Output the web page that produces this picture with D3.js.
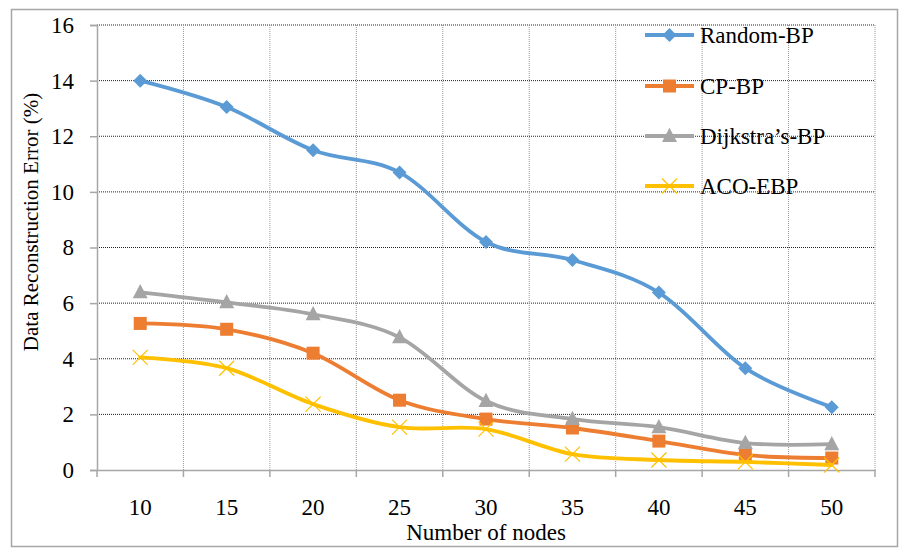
<!DOCTYPE html>
<html><head><meta charset="utf-8">
<script src="https://cdn.jsdelivr.net/npm/d3@7"></script>
<style>body{margin:0;background:#fff} text{font-family:"Liberation Serif","Times New Roman","DejaVu Serif",serif}</style>
</head><body>
<svg id="c" width="912" height="554"></svg>
<script>
const categories = [10, 15, 20, 25, 30, 35, 40, 45, 50];
const randomBP = [14.0, 13.05, 11.5, 10.7, 8.2, 7.55, 6.38, 3.66, 2.26];
const cpBP = [5.27, 5.06, 4.2, 2.51, 1.83, 1.51, 1.04, 0.54, 0.43];
const dijkstraBP = [6.39, 6.03, 5.6, 4.77, 2.48, 1.83, 1.54, 0.97, 0.93];
const acoEBP = [4.05, 3.66, 2.37, 1.54, 1.47, 0.57, 0.36, 0.29, 0.18];
const seriesNames = ["Random-BP", "CP-BP", "Dijkstra\u2019s-BP", "ACO-EBP"];
const yTicks = [0, 2, 4, 6, 8, 10, 12, 14, 16];

const series = [
  {name: seriesNames[0], values: randomBP, color: "#5B9BD5", marker: "diamond"},
  {name: seriesNames[1], values: cpBP, color: "#ED7D31", marker: "square"},
  {name: seriesNames[2], values: dijkstraBP, color: "#A5A5A5", marker: "triangle"},
  {name: seriesNames[3], values: acoEBP, color: "#FFC000", marker: "x"}
];

const svg = d3.select("#c");
const font = "Liberation Serif, Times New Roman, serif";
const L = 97, R = 875, T = 25, B = 470;

svg.append("rect").attr("x", 11.5).attr("y", 9.5).attr("width", 886).attr("height", 537)
  .attr("fill", "#fff").attr("stroke", "#a6a6a6").attr("stroke-width", 1.5);

const x = d3.scaleBand().domain(categories).range([L, R]);
const y = d3.scaleLinear().domain([0, 16]).range([B, T]);

// horizontal gridlines
svg.append("g").selectAll("line").data(yTicks.filter(d => d > 0)).join("line")
  .attr("x1", L).attr("x2", R).attr("y1", d => y(d)).attr("y2", d => y(d))
  .attr("stroke", "#222").attr("stroke-width", 1).attr("stroke-dasharray", "1,1");
// vertical gridlines at band boundaries
const bounds = categories.slice(1).map(c => x(c)).concat([R]);
svg.append("g").selectAll("line").data(bounds).join("line")
  .attr("x1", d => d).attr("x2", d => d).attr("y1", T).attr("y2", B)
  .attr("stroke", "#999").attr("stroke-width", 1).attr("stroke-dasharray", "1,1");

// y axis
const yAxis = svg.append("g").attr("transform", `translate(${L},0)`)
  .call(d3.axisLeft(y).tickValues(yTicks).tickSize(7).tickPadding(16));
yAxis.attr("font-family", null);
yAxis.select(".domain").attr("stroke", "#a6a6a6").attr("stroke-width", 1.5);
yAxis.selectAll(".tick line").attr("stroke", "#a6a6a6").attr("stroke-width", 1.5);
yAxis.selectAll("text").style("font-family", font).style("font-size", "23px").attr("fill", "#000");

// x axis
const xAxis = svg.append("g").attr("transform", `translate(0,${B})`)
  .call(d3.axisBottom(x).tickSize(0).tickPadding(29));
xAxis.attr("font-family", null);
xAxis.select(".domain").attr("stroke", "#a6a6a6").attr("stroke-width", 1.5);
xAxis.selectAll("text").style("font-family", font).style("font-size", "23px").attr("fill", "#000");
xAxis.append("g").selectAll("line").data([L].concat(bounds)).join("line")
  .attr("x1", d => d).attr("x2", d => d).attr("y1", 0).attr("y2", 7)
  .attr("stroke", "#a6a6a6").attr("stroke-width", 1.5);

// titles
svg.append("text").attr("x", 486).attr("y", 540).attr("text-anchor", "middle")
  .style("font-family", font).style("font-size", "23px").text("Number of nodes");
svg.append("text").attr("transform", "translate(38,222) rotate(-90)").attr("text-anchor", "middle")
  .style("font-family", font).style("font-size", "21px").text("Data Reconstruction Error (%)");

const line = d3.line().x((d, i) => x(categories[i]) + x.bandwidth() / 2).y(d => y(d))
  .curve(d3.curveCardinal.tension(0));

function drawMarker(g, type, color, cx, cy, s) {
  if (type === "diamond") {
    g.append("path").attr("d", `M${cx},${cy - s}L${cx + s},${cy}L${cx},${cy + s}L${cx - s},${cy}Z`).attr("fill", color);
  } else if (type === "square") {
    g.append("rect").attr("x", cx - s).attr("y", cy - s).attr("width", 2 * s).attr("height", 2 * s).attr("fill", color);
  } else if (type === "triangle") {
    g.append("path").attr("d", `M${cx},${cy - s * 1.1}L${cx + s},${cy + s * 0.8}L${cx - s},${cy + s * 0.8}Z`).attr("fill", color);
  } else {
    g.append("path").attr("d", `M${cx - s},${cy - s}L${cx + s},${cy + s}M${cx - s},${cy + s}L${cx + s},${cy - s}`)
      .attr("stroke", color).attr("stroke-width", 1.2).attr("fill", "none");
  }
}
const msize = {diamond: 7, square: 6.5, triangle: 7.5, x: 7.5};

series.forEach(s => {
  const g = svg.append("g");
  g.append("path").attr("d", line(s.values)).attr("fill", "none").attr("stroke", s.color)
    .attr("stroke-width", 3.8).attr("stroke-linejoin", "round").attr("stroke-linecap", "round");
  s.values.forEach((v, i) => drawMarker(g, s.marker, s.color, x(categories[i]) + x.bandwidth() / 2, y(v), msize[s.marker]));
});

// legend
const legY = [35, 86, 136, 186];
series.forEach((s, i) => {
  const g = svg.append("g");
  g.append("line").attr("x1", 645).attr("x2", 694).attr("y1", legY[i]).attr("y2", legY[i])
    .attr("stroke", s.color).attr("stroke-width", 3.8);
  drawMarker(g, s.marker, s.color, 669.5, legY[i], msize[s.marker]);
  g.append("text").attr("x", 700).attr("y", legY[i] + 8).style("font-family", font).style("font-size", "23px")
    .attr("fill", "#000").text(s.name);
});
</script>
</body></html>
